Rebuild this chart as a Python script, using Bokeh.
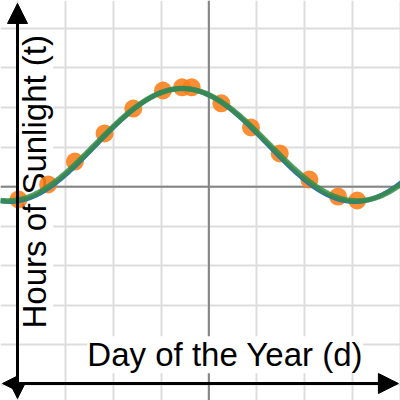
import numpy as np
from bokeh.plotting import figure
from bokeh.models import Span, Label, Arrow, NormalHead, SingleIntervalTicker
from bokeh.embed import file_html
from bokeh.resources import INLINE

# ---- data ----
days = [1, 32, 60, 91, 121, 152, 172, 182, 213, 244, 274, 305, 335, 355]
hours = [9.35, 10.11, 11.27, 12.69, 13.95, 14.86, 15.02, 15.02, 14.21, 12.99, 11.68, 10.36, 9.50, 9.30]

# sinusoidal regression models t = a*sin(2*pi/period*(d - c)) + k (parameters)
green_a, green_period, green_c, green_k = 2.84, 365, 81, 12.12
blue_a, blue_period, blue_c, blue_k = 2.86, 360, 82, 12.10

x_label_text = "Day of the Year (d)"
y_label_text = "Hours of Sunlight (t)"

p = figure(width=400, height=400, x_range=(-17.76, 400.2), y_range=(-0.81, 19.41),
           min_border=0, x_axis_location=None, y_axis_location=None,
           toolbar_location=None, output_backend="svg", outline_line_color=None,
           background_fill_color="white", border_fill_color="white")

p.xgrid.ticker = SingleIntervalTicker(interval=50)
p.ygrid.ticker = SingleIntervalTicker(interval=2)
p.grid.grid_line_color = "#dddddd"
p.grid.grid_line_width = 2

p.add_layout(Span(location=200, dimension="height", line_color="#858585", line_width=2, level="underlay"))
p.add_layout(Span(location=10, dimension="width", line_color="#858585", line_width=2, level="underlay"))

font = "Liberation Sans"
p.add_layout(Label(x=73.0, y=1.50, text=x_label_text, text_font=font, text_font_size="33px",
                   text_color="black", text_align="left", text_baseline="alphabetic",
                   background_fill_color="white", level="underlay"))
p.add_layout(Label(x=18.0, y=2.83, text=y_label_text, angle=np.pi / 2, text_font=font,
                   text_font_size="33px", text_color="black", text_align="left",
                   text_baseline="alphabetic", background_fill_color="white", level="underlay"))

p.scatter(days, hours, size=18, fill_color="#fa7e19", fill_alpha=0.88, line_color=None)

xs = np.linspace(-18, 401, 700)
blue_y = blue_a * np.sin(2 * np.pi / blue_period * (xs - blue_c)) + blue_k
green_y = green_a * np.sin(2 * np.pi / green_period * (xs - green_c)) + green_k
p.line(xs, blue_y, line_color="#2d70b3", line_width=4.5)
p.line(xs, green_y, line_color="#388c46", line_width=5.5, line_alpha=0.85)

p.add_layout(Arrow(x_start=-15.7, y_start=0.05, x_end=398, y_end=0.05, line_width=3, line_color="black",
                   end=NormalHead(size=20, fill_color="black", line_color="black"),
                   start=NormalHead(size=15, fill_color="black", line_color="black")))
p.add_layout(Arrow(x_start=0, y_start=-0.71, x_end=0, y_end=19.26, line_width=3, line_color="black",
                   end=NormalHead(size=20, fill_color="black", line_color="black"),
                   start=NormalHead(size=15, fill_color="black", line_color="black")))

open("out.html", "w").write(file_html(p, INLINE))
